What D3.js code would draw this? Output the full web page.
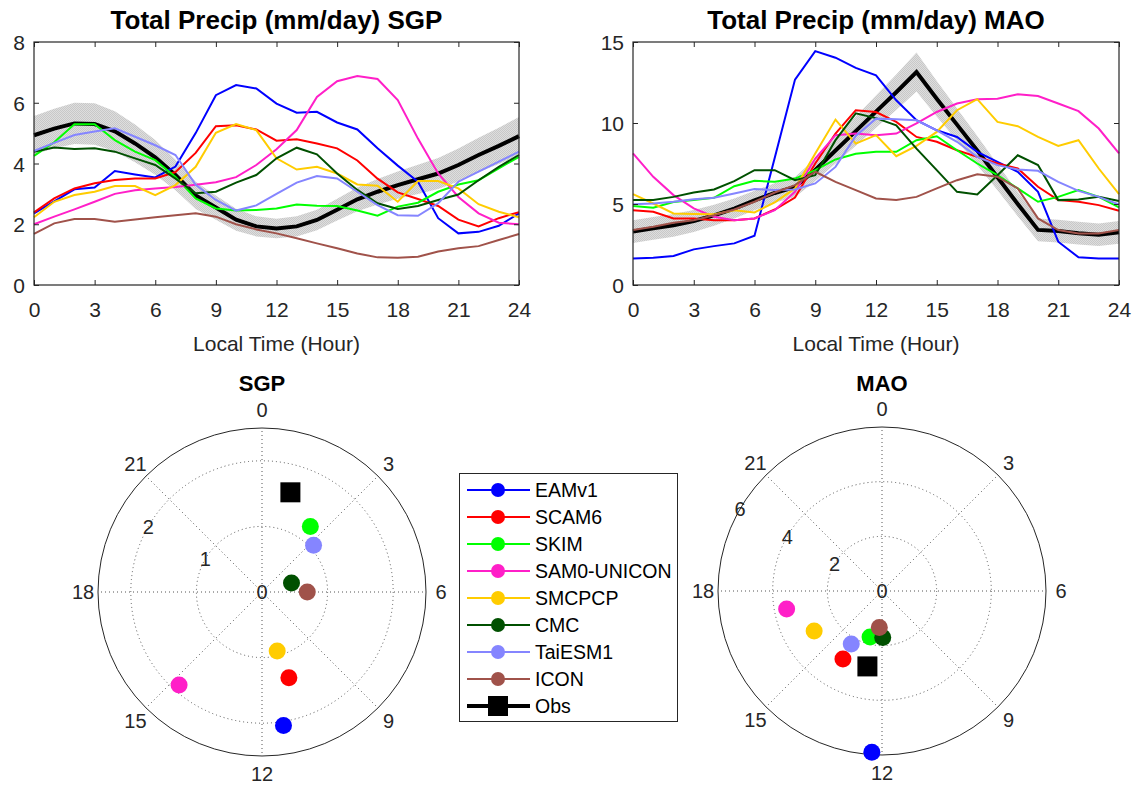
<!DOCTYPE html>
<html>
<head>
<meta charset="utf-8">
<script src="https://d3js.org/d3.v7.min.js"></script>
<style>
    body {
        margin: 0;
        background: #ffffff;
    }

    svg {
        font-family: 'Liberation Sans', Arial, sans-serif;
    }
</style>
<title>Total Precip diurnal cycle</title>
</head>
<body>
<svg id="chart" width="1135" height="786"></svg>
<script>
    // ---- data ----
    var hours = [0, 1, 2, 3, 4, 5, 6, 7, 8, 9, 10, 11, 12, 13, 14, 15, 16, 17, 18, 19, 20, 21, 22, 23, 24];
    var xTicks = [0, 3, 6, 9, 12, 15, 18, 21, 24];
    var models = ["EAMv1", "SCAM6", "SKIM", "SAM0-UNICON", "SMCPCP", "CMC", "TaiESM1", "ICON"];
    var modelColors = ["#0000ff", "#ff0000", "#00ff00", "#ff1fc8", "#ffcc00", "#005000", "#8585ff", "#a0524a"];

    // SGP
    var sgpTicks = [0, 2, 4, 6, 8];
    var sgpObs = [4.93, 5.15, 5.32, 5.3, 5.06, 4.66, 4.2, 3.62, 2.95, 2.55, 2.15, 1.93, 1.86, 1.93, 2.14, 2.48, 2.82, 3.07, 3.29, 3.48, 3.67, 3.95, 4.28, 4.58, 4.9];
    var sgpObsSpread = [0.63, 0.65, 0.68, 0.68, 0.66, 0.62, 0.57, 0.5, 0.45, 0.4, 0.36, 0.33, 0.32, 0.33, 0.34, 0.36, 0.39, 0.42, 0.45, 0.48, 0.51, 0.54, 0.57, 0.6, 0.63];
    var sgpEAMv1 = [2.36, 2.75, 3.15, 3.21, 3.75, 3.64, 3.54, 3.9, 5.0, 6.25, 6.58, 6.47, 5.97, 5.67, 5.7, 5.35, 5.12, 4.5, 3.93, 3.4, 2.2, 1.7, 1.75, 1.95, 2.36];
    var sgpSCAM6 = [2.39, 2.85, 3.18, 3.35, 3.46, 3.51, 3.51, 3.72, 4.35, 5.23, 5.26, 5.12, 4.75, 4.8, 4.66, 4.5, 4.1, 3.5, 3.05, 2.83, 2.6, 2.15, 1.93, 2.2, 2.4];
    var sgpSKIM = [4.25, 4.7, 5.29, 5.29, 4.77, 4.39, 4.11, 3.56, 2.85, 2.52, 2.45, 2.47, 2.52, 2.65, 2.61, 2.6, 2.45, 2.28, 2.58, 2.71, 3.07, 3.31, 3.45, 3.84, 4.22];
    var sgpSAM0 = [2.0, 2.25, 2.49, 2.74, 3.0, 3.12, 3.18, 3.23, 3.3, 3.38, 3.55, 3.95, 4.47, 5.1, 6.19, 6.71, 6.88, 6.78, 6.09, 4.82, 3.67, 2.9, 2.36, 2.05, 2.0];
    var sgpSMCPCP = [2.23, 2.74, 2.96, 3.07, 3.26, 3.26, 2.96, 3.29, 3.89, 5.01, 5.3, 5.1, 4.17, 3.8, 3.89, 3.67, 3.31, 3.27, 2.74, 3.42, 3.42, 3.18, 2.66, 2.41, 2.23];
    var sgpCMC = [4.39, 4.53, 4.48, 4.5, 4.39, 4.17, 3.95, 3.5, 3.02, 3.07, 3.37, 3.62, 4.17, 4.52, 4.3, 3.67, 3.13, 2.69, 2.5, 2.6, 2.8, 2.98, 3.45, 3.89, 4.28];
    var sgpTaiESM1 = [4.41, 4.68, 4.94, 5.05, 5.16, 4.88, 4.6, 4.28, 3.3, 2.8, 2.45, 2.62, 3.0, 3.37, 3.59, 3.51, 3.07, 2.63, 2.3, 2.28, 2.69, 3.4, 3.73, 4.06, 4.39];
    var sgpICON = [1.68, 2.03, 2.17, 2.17, 2.08, 2.16, 2.23, 2.3, 2.36, 2.25, 2.0, 1.83, 1.7, 1.54, 1.37, 1.21, 1.04, 0.91, 0.9, 0.93, 1.1, 1.21, 1.28, 1.48, 1.68];

    // MAO
    var maoTicks = [0, 5, 10, 15];
    var maoObs = [3.3, 3.5, 3.68, 3.95, 4.3, 4.72, 5.22, 5.68, 6.05, 7.1, 8.3, 9.5, 10.7, 11.9, 13.15, 11.5, 9.9, 8.3, 6.65, 5.0, 3.4, 3.33, 3.2, 3.1, 3.25];
    var maoObsSpread = [0.7, 0.7, 0.7, 0.68, 0.65, 0.62, 0.6, 0.6, 0.62, 0.7, 0.8, 0.9, 1.0, 1.1, 1.2, 1.1, 1.0, 0.9, 0.8, 0.75, 0.7, 0.7, 0.7, 0.7, 0.7];
    var maoEAMv1 = [1.64, 1.68, 1.79, 2.2, 2.4, 2.57, 3.04, 7.86, 12.68, 14.44, 14.03, 13.4, 12.94, 11.4, 10.17, 9.55, 9.14, 8.22, 7.6, 6.99, 5.75, 2.67, 1.71, 1.64, 1.64];
    var maoSCAM6 = [4.62, 4.52, 4.11, 4.11, 4.0, 4.0, 4.11, 4.66, 5.4, 7.5, 9.35, 10.79, 10.68, 10.07, 9.14, 8.84, 8.32, 7.91, 7.5, 7.19, 6.06, 5.24, 5.14, 4.93, 4.58];
    var maoSKIM = [4.87, 4.77, 5.12, 5.24, 5.38, 6.1, 6.43, 6.37, 6.57, 7.09, 7.75, 8.1, 8.22, 8.22, 8.94, 9.18, 8.32, 7.5, 6.78, 5.96, 5.14, 5.44, 5.86, 5.44, 4.79];
    var maoSAM0 = [8.12, 6.68, 5.55, 4.73, 4.21, 4.0, 4.11, 4.62, 5.75, 7.81, 9.25, 9.35, 9.25, 9.35, 9.97, 10.68, 11.2, 11.47, 11.5, 11.77, 11.67, 11.2, 10.73, 9.66, 8.12];
    var maoSMCPCP = [5.61, 5.03, 4.42, 4.38, 4.36, 4.62, 4.48, 5.1, 5.96, 8.12, 10.21, 8.73, 9.25, 7.95, 8.59, 9.45, 10.79, 11.47, 10.07, 9.8, 9.14, 8.59, 8.94, 7.19, 5.61];
    var maoCMC = [5.24, 5.24, 5.44, 5.71, 5.9, 6.41, 7.09, 7.09, 6.47, 6.78, 8.94, 10.6, 10.3, 9.86, 8.42, 7.09, 5.75, 5.59, 6.78, 8.01, 7.4, 5.24, 5.28, 5.44, 5.18];
    var maoTaiESM1 = [4.99, 5.03, 5.14, 5.3, 5.38, 5.65, 5.92, 5.86, 5.9, 6.27, 7.29, 9.2, 10.27, 10.23, 10.17, 9.55, 8.84, 7.91, 7.4, 7.13, 7.05, 6.37, 5.81, 5.44, 4.97];
    var maoICON = [3.39, 3.6, 3.84, 4.0, 4.31, 4.66, 5.14, 5.71, 6.16, 6.99, 6.37, 5.86, 5.34, 5.24, 5.44, 5.96, 6.47, 6.84, 6.68, 5.96, 4.11, 3.39, 3.18, 3.18, 3.39];

    // diurnal harmonic: amplitude (mm/day) and phase (local hour)
    var sgpAmp = [2.06, 1.37, 1.24, 1.90, 0.93, 0.47, 1.06, 0.69];
    var sgpPhase = [11.39, 10.84, 2.43, 14.78, 11.04, 4.87, 3.19, 6.0];
    var sgpObsAmp = 1.58;
    var sgpObsPhase = 1.06;
    var sgpRTicks = [0, 1, 2];

    var maoAmp = [5.91, 2.87, 1.74, 3.55, 2.88, 1.70, 2.24, 1.34];
    var maoPhase = [12.24, 13.99, 12.97, 17.29, 15.97, 11.94, 14.01, 12.28];
    var maoObsAmp = 2.81;
    var maoObsPhase = 12.73;
    var maoRTicks = [0, 2, 4, 6];

    var angleTicks = [0, 3, 6, 9, 12, 15, 18, 21];

    var axisColor = "#262626";
    var svg = d3.select("#chart");

    function linePanel(left, right, yMax, yTicks, obs, spread, series, title) {
        var top = 42, bottom = 285;
        var x = d3.scaleLinear().domain([0, 24]).range([left, right]);
        var y = d3.scaleLinear().domain([0, yMax]).range([bottom, top]);
        var g = svg.append("g");

        var band = d3.area()
            .x(function (d, i) { return x(hours[i]); })
            .y0(function (d, i) { return y(obs[i] - spread[i]); })
            .y1(function (d, i) { return y(obs[i] + spread[i]); });
        g.append("path")
            .datum(obs)
            .attr("d", band)
            .attr("fill", "url(#stipple)");

        var line = d3.line()
            .x(function (d, i) { return x(hours[i]); })
            .y(function (d) { return y(d); });

        g.append("path")
            .datum(obs)
            .attr("d", line)
            .attr("fill", "none")
            .attr("stroke", "#000")
            .attr("stroke-width", 4);

        series.forEach(function (s, k) {
            g.append("path")
                .datum(s)
                .attr("d", line)
                .attr("fill", "none")
                .attr("stroke", modelColors[k])
                .attr("stroke-width", 2);
        });

        // axes with inward ticks on all four sides
        g.append("g")
            .attr("transform", "translate(0," + bottom + ")")
            .call(d3.axisBottom(x).tickValues(xTicks).tickSize(-5).tickPadding(17));
        g.append("g")
            .attr("transform", "translate(0," + top + ")")
            .call(d3.axisTop(x).tickValues(xTicks).tickSize(-5).tickFormat(""));
        var yl = g.append("g")
            .attr("transform", "translate(" + left + ",0)")
            .call(d3.axisLeft(y).tickValues(yTicks).tickSize(-5).tickPadding(9));
        g.append("g")
            .attr("transform", "translate(" + right + ",0)")
            .call(d3.axisRight(y).tickValues(yTicks).tickSize(-5).tickFormat(""));

        g.selectAll(".domain").remove();
        g.selectAll(".tick line").attr("stroke", axisColor);
        g.selectAll(".tick text")
            .attr("fill", axisColor)
            .style("font-size", "21px")
            .style("font-family", "'Liberation Sans', Arial, sans-serif");
        yl.selectAll(".tick text").attr("dy", "0.36em");

        g.append("rect")
            .attr("x", left)
            .attr("y", top)
            .attr("width", right - left)
            .attr("height", bottom - top)
            .attr("fill", "none")
            .attr("stroke", axisColor)
            .attr("stroke-width", 1.2);

        g.append("text")
            .attr("x", (left + right) / 2)
            .attr("y", 20)
            .attr("dy", "0.36em")
            .attr("text-anchor", "middle")
            .style("font-size", "26px")
            .style("font-weight", "bold")
            .text(title);

        g.append("text")
            .attr("x", (left + right) / 2)
            .attr("y", 343)
            .attr("dy", "0.36em")
            .attr("text-anchor", "middle")
            .attr("fill", axisColor)
            .style("font-size", "21px")
            .text("Local Time (Hour)");
    }

    function polarPanel(cx, cy, R, rMax, rTicks, amp, phase, obsAmp, obsPhase, title) {
        var r = d3.scaleLinear().domain([0, rMax]).range([0, R]);
        var a = d3.scaleLinear().domain([0, 24]).range([0, 2 * Math.PI]);
        var g = svg.append("g").attr("transform", "translate(" + cx + "," + cy + ")");

        angleTicks.forEach(function (h) {
            var p = d3.pointRadial(a(h), R);
            g.append("line")
                .attr("x1", 0).attr("y1", 0)
                .attr("x2", p[0]).attr("y2", p[1])
                .attr("stroke", "#555")
                .attr("stroke-width", 1)
                .attr("stroke-dasharray", "1,3");
        });
        rTicks.forEach(function (t) {
            if (t <= 0 || t >= rMax) return;
            g.append("circle")
                .attr("r", r(t))
                .attr("fill", "none")
                .attr("stroke", "#555")
                .attr("stroke-width", 1)
                .attr("stroke-dasharray", "1,3");
        });
        g.append("circle")
            .attr("r", R)
            .attr("fill", "none")
            .attr("stroke", axisColor)
            .attr("stroke-width", 1);

        // hour labels round the rim
        angleTicks.forEach(function (h) {
            var ang = a(h);
            var px = Math.sin(ang) * (R + 15);
            var py = -Math.cos(ang) * (R + 18);
            g.append("text")
                .attr("x", px)
                .attr("y", py)
                .attr("dy", "0.36em")
                .attr("text-anchor", "middle")
                .attr("fill", axisColor)
                .style("font-size", "20px")
                .text(h);
        });

        // radius labels along 20 h
        rTicks.forEach(function (t) {
            var p = d3.pointRadial(a(20), r(t));
            g.append("text")
                .attr("x", p[0])
                .attr("y", p[1])
                .attr("dy", "0.36em")
                .attr("text-anchor", "middle")
                .attr("fill", axisColor)
                .style("font-size", "20px")
                .text(t);
        });

        var sq = 20;
        var po = d3.pointRadial(a(obsPhase), r(obsAmp));
        g.append("rect")
            .attr("x", po[0] - sq / 2)
            .attr("y", po[1] - sq / 2)
            .attr("width", sq)
            .attr("height", sq)
            .attr("fill", "#000");

        amp.forEach(function (v, k) {
            var p = d3.pointRadial(a(phase[k]), r(v));
            g.append("circle")
                .attr("cx", p[0])
                .attr("cy", p[1])
                .attr("r", 8.5)
                .attr("fill", modelColors[k]);
        });

        svg.append("text")
            .attr("x", cx)
            .attr("y", 383)
            .attr("dy", "0.36em")
            .attr("text-anchor", "middle")
            .style("font-size", "22px")
            .style("font-weight", "bold")
            .text(title);
    }

    // stippled grey band like the original shading
    var defs = svg.append("defs");
    var pat = defs.append("pattern")
        .attr("id", "stipple")
        .attr("width", 2)
        .attr("height", 2)
        .attr("patternUnits", "userSpaceOnUse");
    pat.append("rect").attr("width", 2).attr("height", 2).attr("fill", "#dedede");
    pat.append("rect").attr("width", 1).attr("height", 1).attr("fill", "#c8c8c8");
    pat.append("rect").attr("x", 1).attr("y", 1).attr("width", 1).attr("height", 1).attr("fill", "#c8c8c8");

    linePanel(34, 519, 8, sgpTicks, sgpObs, sgpObsSpread,
        [sgpEAMv1, sgpSCAM6, sgpSKIM, sgpSAM0, sgpSMCPCP, sgpCMC, sgpTaiESM1, sgpICON],
        "Total Precip (mm/day) SGP");
    linePanel(633, 1119, 15, maoTicks, maoObs, maoObsSpread,
        [maoEAMv1, maoSCAM6, maoSKIM, maoSAM0, maoSMCPCP, maoCMC, maoTaiESM1, maoICON],
        "Total Precip (mm/day) MAO");

    polarPanel(262, 592, 164, 2.5, sgpRTicks, sgpAmp, sgpPhase, sgpObsAmp, sgpObsPhase, "SGP");
    polarPanel(882, 591, 164, 6, maoRTicks, maoAmp, maoPhase, maoObsAmp, maoObsPhase, "MAO");

    // legend
    var leg = svg.append("g");
    leg.append("rect")
        .attr("x", 459.5)
        .attr("y", 473.5)
        .attr("width", 218)
        .attr("height", 248)
        .attr("fill", "#fff")
        .attr("stroke", axisColor)
        .attr("stroke-width", 1);

    var legNames = models.concat(["Obs"]);
    var legY = d3.scalePoint().domain(legNames).range([490, 706]);
    legNames.forEach(function (name, k) {
        var yy = legY(name);
        var isObs = name === "Obs";
        var col = isObs ? "#000" : modelColors[k];
        leg.append("line")
            .attr("x1", 467).attr("x2", 530)
            .attr("y1", yy).attr("y2", yy)
            .attr("stroke", col)
            .attr("stroke-width", isObs ? 4 : 2);
        if (isObs) {
            leg.append("rect")
                .attr("x", 488).attr("y", yy - 10)
                .attr("width", 20).attr("height", 20)
                .attr("fill", "#000");
        } else {
            leg.append("circle")
                .attr("cx", 498).attr("cy", yy)
                .attr("r", 7)
                .attr("fill", col);
        }
        leg.append("text")
            .attr("x", 535)
            .attr("y", yy)
            .attr("dy", "0.36em")
            .style("font-size", "19.5px")
            .text(name);
    });
</script>
</body>
</html>
